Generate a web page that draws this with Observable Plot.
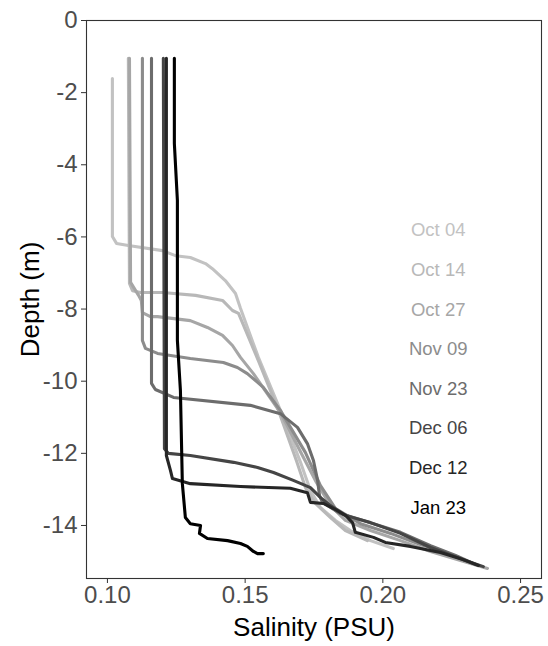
<!DOCTYPE html>
<html><head><meta charset="utf-8">
<script src="https://cdn.jsdelivr.net/npm/d3@7"></script>
<script src="https://cdn.jsdelivr.net/npm/@observablehq/plot@0.6"></script>
<style>body{margin:0;background:#fff}</style>
</head><body><div id="chart"></div>
<script>
const dates = ["Oct 04","Oct 14","Oct 27","Nov 09","Nov 23","Dec 06","Dec 12","Jan 23"];
const grays = ["#c2c2c2","#b8b8b8","#a6a6a6","#8c8c8c","#6c6c6c","#454545","#262626","#000000"];
const xTicks = [0.10,0.15,0.20,0.25];
const yTicks = [0,-2,-4,-6,-8,-10,-12,-14];

// [salinity (PSU), depth (m)]
const oct04 = [[0.1018,-1.61],[0.1018,-5.99],[0.1033,-6.18],[0.1076,-6.24],[0.1200,-6.38],[0.1247,-6.52],[0.1301,-6.57],[0.1356,-6.74],[0.1381,-6.88],[0.1428,-7.21],[0.1465,-7.57],[0.1483,-7.98],[0.1548,-9.34],[0.1628,-10.81],[0.1701,-12.25],[0.1737,-13.03],[0.1773,-13.50],[0.1828,-13.86],[0.1882,-14.14],[0.1955,-14.42],[0.2038,-14.64]];
const oct14 = [[0.1076,-1.05],[0.1080,-7.29],[0.1091,-7.49],[0.1120,-7.54],[0.1200,-7.54],[0.1320,-7.62],[0.1418,-7.76],[0.1454,-8.04],[0.1476,-8.12],[0.1548,-9.43],[0.1621,-10.81],[0.1686,-12.20],[0.1719,-12.95],[0.1755,-13.39],[0.1810,-13.78],[0.1864,-14.14],[0.1944,-14.42]];
const oct27 = [[0.1080,-1.05],[0.1084,-7.26],[0.1113,-7.62],[0.1123,-7.76],[0.1127,-8.10],[0.1156,-8.21],[0.1182,-8.21],[0.1301,-8.32],[0.1363,-8.51],[0.1418,-8.73],[0.1454,-9.01],[0.1483,-9.34],[0.1530,-9.79],[0.1628,-10.87],[0.1708,-12.06],[0.1759,-12.81],[0.1810,-13.45],[0.1864,-13.86],[0.1955,-14.14],[0.2064,-14.42],[0.2173,-14.72],[0.2282,-14.97],[0.2380,-15.19]];
const nov09 = [[0.1127,-1.05],[0.1127,-8.87],[0.1138,-9.09],[0.1182,-9.23],[0.1301,-9.37],[0.1421,-9.48],[0.1472,-9.62],[0.1508,-9.79],[0.1566,-10.17],[0.1628,-10.81],[0.1719,-11.98],[0.1773,-12.89],[0.1828,-13.53],[0.1919,-13.95],[0.2028,-14.22],[0.2137,-14.53],[0.2245,-14.80],[0.2325,-15.05]];
const nov23 = [[0.1160,-1.05],[0.1160,-10.06],[0.1174,-10.23],[0.1240,-10.45],[0.1519,-10.67],[0.1628,-10.90],[0.1690,-11.28],[0.1726,-11.73],[0.1748,-12.20],[0.1763,-12.75],[0.1770,-13.17],[0.1781,-13.36],[0.1846,-13.67],[0.1966,-13.95],[0.2064,-14.19],[0.2173,-14.56],[0.2264,-14.83],[0.2336,-15.08]];
const dec06 = [[0.1203,-1.05],[0.1207,-11.87],[0.1221,-12.00],[0.1301,-12.06],[0.1458,-12.25],[0.1545,-12.39],[0.1603,-12.53],[0.1675,-12.75],[0.1737,-12.95],[0.1773,-13.22],[0.1810,-13.45],[0.1864,-13.72],[0.1955,-13.92],[0.2064,-14.22],[0.2173,-14.61],[0.2282,-14.92],[0.2365,-15.14]];
const dec12 = [[0.1214,-1.05],[0.1214,-12.06],[0.1229,-12.48],[0.1236,-12.70],[0.1301,-12.84],[0.1483,-12.92],[0.1664,-12.97],[0.1726,-13.09],[0.1737,-13.36],[0.1784,-13.39],[0.1821,-13.53],[0.1864,-13.72],[0.1890,-13.92],[0.1900,-14.19],[0.1966,-14.33],[0.2009,-14.47],[0.2100,-14.58],[0.2209,-14.75],[0.2282,-14.92],[0.2347,-15.11]];
const jan23 = [[0.1243,-1.05],[0.1243,-3.41],[0.1254,-4.99],[0.1254,-8.87],[0.1265,-10.26],[0.1272,-12.84],[0.1283,-13.78],[0.1301,-13.95],[0.1338,-14.00],[0.1334,-14.22],[0.1363,-14.36],[0.1436,-14.42],[0.1483,-14.50],[0.1508,-14.58],[0.1530,-14.72],[0.1545,-14.78],[0.1566,-14.78]];

const profiles = [oct04, oct14, oct27, nov09, nov23, dec06, dec12, jan23];
const rows = profiles.flatMap((p, i) => p.map(([s, d]) => ({date: dates[i], sal: s, depth: d})));
const labels = dates.map((d, i) => ({date: d, x: 0.2201, y: -5.82 - i * 1.098}));

const font = "'Liberation Sans', Arial, Helvetica, sans-serif";
const plot = Plot.plot({
  width: 548, height: 646,
  marginLeft: 86, marginRight: 7, marginTop: 20, marginBottom: 68,
  style: {fontFamily: font, background: "#fff"},
  x: {domain: [0.0924, 0.2576]},
  y: {domain: [-15.47, 0]},
  color: {domain: dates, range: grays},
  marks: [
    Plot.line(rows, {x: "sal", y: "depth", z: "date", stroke: "date", strokeWidth: 3.1, strokeLinejoin: "round", strokeLinecap: "round", curve: "linear"}),
    Plot.frame({stroke: "#333", strokeWidth: 1.1}),
    Plot.axisX({ticks: xTicks, tickFormat: d3.format(".2f"), tickSize: 5, tickPadding: 2, fontSize: 24, stroke: "#333", fill: "#4d4d4d", label: null}),
    Plot.axisY({ticks: yTicks, tickFormat: d => String(d), tickSize: 5, tickPadding: 4, fontSize: 24, stroke: "#333", fill: "#4d4d4d", label: null}),
    Plot.text(labels, {x: "x", y: "y", text: "date", fill: "date", fontSize: 18.5, textAnchor: "middle"}),
    Plot.text(["Salinity (PSU)"], {frameAnchor: "bottom", dy: 49, lineAnchor: "middle", textAnchor: "middle", fontSize: 26, fill: "#000"}),
    Plot.text(["Depth (m)"], {frameAnchor: "left", dx: -56, rotate: -90, textAnchor: "middle", lineAnchor: "middle", fontSize: 26, fill: "#000"})
  ]
});
document.getElementById("chart").append(plot);
</script>
</body></html>
